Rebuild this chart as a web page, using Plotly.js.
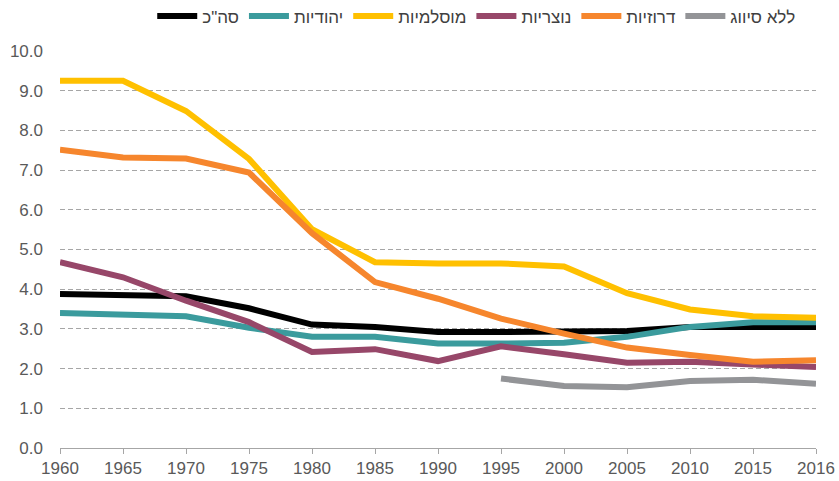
<!DOCTYPE html>
<html>
<head>
<meta charset="utf-8">
<script src="https://cdn.plot.ly/plotly-3.0.1.min.js"></script>
<style>html,body{margin:0;padding:0;background:#fff;}#chart{width:839px;height:481px;}</style>
</head>
<body>
<div id="chart"></div>
<script>
const years = ['1960','1965','1970','1975','1980','1985','1990','1995','2000','2005','2010','2015','2016'];
const total     = [3.88, 3.86, 3.82, 3.52, 3.11, 3.05, 2.92, 2.92, 2.92, 2.95, 3.05, 3.05, 3.05];
const jewish    = [3.40, 3.37, 3.32, 3.03, 2.80, 2.80, 2.63, 2.63, 2.65, 2.80, 3.05, 3.17, 3.17];
const muslim    = [9.25, 9.25, 8.49, 7.28, 5.51, 4.68, 4.65, 4.65, 4.57, 3.90, 3.49, 3.32, 3.28];
const christian = [4.68, 4.30, 3.71, 3.17, 2.42, 2.49, 2.19, 2.56, 2.36, 2.15, 2.17, 2.09, 2.04];
const druze     = [7.51, 7.32, 7.29, 6.94, 5.41, 4.18, 3.76, 3.26, 2.88, 2.53, 2.34, 2.17, 2.21];
const unclassified = [null, null, null, null, null, null, null, 1.75, 1.56, 1.53, 1.69, 1.72, 1.62];
const names = ['סה"כ', 'יהודיות', 'מוסלמיות', 'נוצריות', 'דרוזיות', 'ללא סיווג'];
const colors = ['#000000', '#3B9B9D', '#FFC000', '#974769', '#F6862D', '#939497'];
const series = [total, jewish, muslim, christian, druze, unclassified];

const traces = series.map((s, i) => ({
  x: years, y: s, name: names[i], type: 'scatter', mode: 'lines',
  line: {color: colors[i], width: 6},
  connectgaps: false
}));

const layout = {
  width: 839, height: 481,
  margin: {l: 60, r: 23, t: 51, b: 33, autoexpand: false},
  paper_bgcolor: '#fff', plot_bgcolor: '#fff',
  font: {family: 'Liberation Sans, Arial, sans-serif', size: 17, color: '#595959'},
  showlegend: true,
  legend: {orientation: 'h', x: 0.122, xanchor: 'left', y: 1.087, yanchor: 'middle',
           font: {size: 17, color: '#404040'}, itemwidth: 40, tracegroupgap: 0},
  xaxis: {type: 'category', range: [0, 12], showgrid: false, showline: true,
          linecolor: '#A6A6A6', linewidth: 1, ticks: 'outside', ticklen: 5,
          tickcolor: '#A6A6A6', tickfont: {family: 'Liberation Sans Narrow, Arial Narrow, sans-serif', size: 17, color: '#595959'},
          zeroline: false, fixedrange: true},
  yaxis: {range: [0, 10], dtick: 1, tickformat: '.1f', showgrid: true,
          gridcolor: '#A6A6A6', griddash: '5px,3px', gridwidth: 1, zeroline: false,
          showline: false, ticks: '', tickfont: {size: 17, color: '#595959'},
          ticklabelstandoff: 16}
};

Plotly.newPlot('chart', traces, layout, {staticPlot: true, displayModeBar: false});
</script>
</body>
</html>
